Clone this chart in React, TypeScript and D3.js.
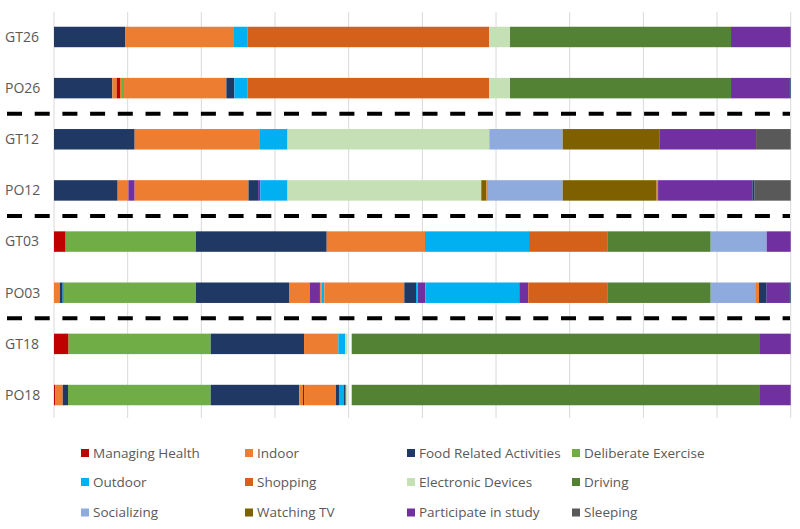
import React from "react";
import * as d3 from "d3";

// Activity categories (legend order) and colours
const categories = [
  "Managing Health",
  "Indoor",
  "Food Related Activities",
  "Deliberate Exercise",
  "Outdoor",
  "Shopping",
  "Electronic Devices",
  "Driving",
  "Socializing",
  "Watching TV",
  "Participate in study",
  "Sleeping",
];
const colors = [
  "#C00000",
  "#ED7D31",
  "#1F3864",
  "#70AD47",
  "#00B0F0",
  "#D4601A",
  "#C5E0B4",
  "#548235",
  "#8FAADC",
  "#7F6000",
  "#7030A0",
  "#595959",
];

const rows = ["GT26", "PO26", "GT12", "PO12", "GT03", "PO03", "GT18", "PO18"];
// group separators after these rows
const separatorsAfter = ["PO26", "PO12", "PO03"];

// Each sequence: [activity, end position on a 0–100 timeline]; null = empty gap
type Seg = [string | null, number];
const GT26: Seg[] = [
  ["Food Related Activities", 9.7],
  ["Indoor", 24.43],
  ["Outdoor", 26.24],
  ["Shopping", 59.09],
  ["Electronic Devices", 61.9],
  ["Driving", 91.9],
  ["Participate in study", 100],
];
const PO26: Seg[] = [
  ["Food Related Activities", 7.92],
  ["Indoor", 8.51],
  ["Managing Health", 8.96],
  ["Indoor", 9.23],
  ["Deliberate Exercise", 9.5],
  ["Indoor", 23.4],
  ["Food Related Activities", 24.48],
  ["Outdoor", 26.24],
  ["Shopping", 59.09],
  ["Electronic Devices", 61.9],
  ["Driving", 91.9],
  ["Participate in study", 99.8],
  ["Food Related Activities", 100],
];
const GT12: Seg[] = [
  ["Food Related Activities", 10.95],
  ["Indoor", 27.96],
  ["Outdoor", 31.7],
  ["Electronic Devices", 59.09],
  ["Socializing", 69.05],
  ["Watching TV", 82.16],
  ["Participate in study", 95.3],
  ["Sleeping", 100],
];
const PO12: Seg[] = [
  ["Food Related Activities", 8.64],
  ["Indoor", 10.1],
  ["Participate in study", 10.95],
  ["Indoor", 26.4],
  ["Food Related Activities", 27.7],
  ["Participate in study", 28.0],
  ["Outdoor", 31.7],
  ["Electronic Devices", 58.0],
  ["Watching TV", 58.7],
  ["Indoor", 58.9],
  ["Socializing", 69.05],
  ["Watching TV", 81.8],
  ["Indoor", 82.0],
  ["Participate in study", 94.8],
  ["Food Related Activities", 95.1],
  ["Sleeping", 100],
];
const GT03: Seg[] = [
  ["Managing Health", 1.58],
  ["Deliberate Exercise", 19.27],
  ["Food Related Activities", 37.02],
  ["Indoor", 50.36],
  ["Outdoor", 64.48],
  ["Shopping", 75.1],
  ["Driving", 89.14],
  ["Socializing", 96.74],
  ["Participate in study", 100],
];
const PO03: Seg[] = [
  ["Indoor", 0.81],
  ["Food Related Activities", 1.18],
  ["Outdoor", 1.36],
  ["Deliberate Exercise", 19.27],
  ["Food Related Activities", 31.9],
  ["Indoor", 34.75],
  ["Participate in study", 36.0],
  ["Managing Health", 36.15],
  ["Indoor", 36.34],
  ["Outdoor", 36.69],
  ["Indoor", 47.55],
  ["Food Related Activities", 49.14],
  ["Outdoor", 49.37],
  ["Participate in study", 50.4],
  ["Outdoor", 63.16],
  ["Participate in study", 64.38],
  ["Shopping", 75.1],
  ["Driving", 89.14],
  ["Socializing", 95.18],
  ["Indoor", 95.7],
  ["Food Related Activities", 96.74],
  ["Participate in study", 99.8],
  ["Food Related Activities", 100],
];
const GT18: Seg[] = [
  ["Managing Health", 1.98],
  ["Deliberate Exercise", 21.27],
  ["Food Related Activities", 33.94],
  ["Indoor", 38.59],
  ["Outdoor", 39.5],
  ["Electronic Devices", 39.84],
  [null, 40.41],
  ["Driving", 95.83],
  ["Participate in study", 100],
];
const PO18: Seg[] = [
  ["Managing Health", 0.15],
  ["Indoor", 1.18],
  ["Food Related Activities", 1.9],
  ["Deliberate Exercise", 21.27],
  ["Food Related Activities", 33.3],
  ["Indoor", 33.8],
  ["Managing Health", 33.94],
  ["Indoor", 38.28],
  ["Food Related Activities", 38.69],
  ["Outdoor", 39.37],
  ["Food Related Activities", 39.6],
  ["Electronic Devices", 39.84],
  [null, 40.41],
  ["Driving", 95.83],
  ["Participate in study", 100],
];
const sequences: Record<string, Seg[]> = { GT26, PO26, GT12, PO12, GT03, PO03, GT18, PO18 };

const xTicks = d3.range(0, 101, 10);

const W = 800;
const H = 529;
const FONT = "'Open Sans', 'Noto Sans', sans-serif";

export default function App() {
  const x = d3.scaleLinear().domain([0, 100]).range([54, 790.7]);
  const y = d3
    .scaleBand<string>()
    .domain(rows)
    .range([11.4, 420.6])
    .paddingInner(0.6)
    .paddingOuter(0.3);
  const color = d3.scaleOrdinal<string, string>().domain(categories).range(colors);

  const segs: { row: string; cat: string | null; x0: number; x1: number }[] = [];
  rows.forEach((r) => {
    let prev = 0;
    sequences[r].forEach(([cat, end]) => {
      segs.push({ row: r, cat, x0: prev, x1: end });
      prev = end;
    });
  });

  const legendCols = [81, 245, 407, 572];
  const legendRows = [453, 482, 512.5];

  return (
    <div style={{ position: "absolute", left: 0, top: 0 }}>
      <svg width={W} height={H} style={{ display: "block", background: "#fff" }}>
        {/* gridlines */}
        {xTicks.map((t) => (
          <line
            key={"g" + t}
            x1={x(t)}
            x2={x(t)}
            y1={12}
            y2={418}
            stroke="#d9d9d9"
            strokeWidth={1}
          />
        ))}
        {/* bars */}
        {segs
          .filter((s) => s.cat !== null)
          .map((s, i) => (
            <rect
              key={"s" + i}
              x={x(s.x0)}
              width={Math.max(0, x(s.x1) - x(s.x0))}
              y={y(s.row)}
              height={y.bandwidth()}
              fill={color(s.cat as string)}
            />
          ))}
        {/* row labels */}
        {rows.map((r) => (
          <text
            key={"l" + r}
            x={5}
            y={(y(r) as number) + y.bandwidth() / 2}
            dy="0.35em"
            fontFamily={FONT}
            fontSize={14}
            fill="#595959"
          >
            {r}
          </text>
        ))}
        {/* dashed separators */}
        {separatorsAfter.map((r) => {
          const idx = rows.indexOf(r);
          const yy =
            ((y(rows[idx]) as number) + (y(rows[idx + 1]) as number)) / 2 + y.bandwidth() / 2;
          return (
            <line
              key={"d" + r}
              x1={7}
              x2={790}
              y1={yy}
              y2={yy}
              stroke="#000"
              strokeWidth={4}
              strokeDasharray="15,12.7"
            />
          );
        })}
        {/* legend */}
        {categories.map((c, i) => {
          const cx = legendCols[i % 4];
          const cy = legendRows[Math.floor(i / 4)];
          return (
            <g key={"lg" + c}>
              <rect x={cx} y={cy - 4} width={8} height={8} fill={color(c)} />
              <text
                x={cx + 12}
                y={cy}
                dy="0.35em"
                fontFamily={FONT}
                fontSize={13.5}
                fill="#595959"
              >
                {c}
              </text>
            </g>
          );
        })}
      </svg>
    </div>
  );
}
